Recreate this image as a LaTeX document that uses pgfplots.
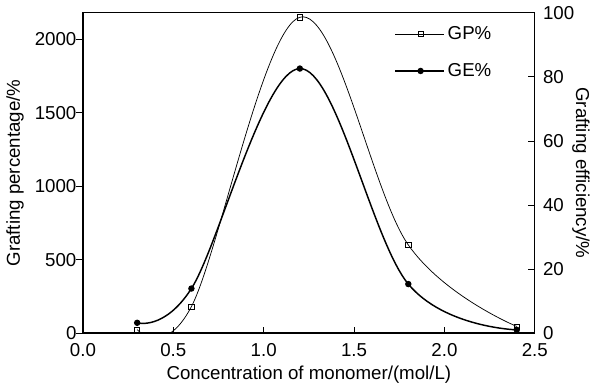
\documentclass[border=0pt]{standalone}
\usepackage{pgfplots}
\pgfplotsset{compat=1.18}
\usepackage{fontspec}
\setmainfont{Liberation Sans}
\begin{document}
\fontsize{11.5}{13}\selectfont
\begin{tikzpicture}
\begin{axis}[
  width=278pt, height=197pt, scale only axis,
  xmin=0, xmax=2.5, ymin=0, ymax=2180,
  xtick={0,0.5,...,2.5}, ytick={0,500,1000,1500,2000},
  xticklabel style={yshift=-2.5pt, /pgf/number format/.cd,fixed,fixed zerofill,precision=1},
  /pgf/number format/1000 sep={},
  xtick pos=left, ytick pos=left,
  tick align=inside,
  major tick length=4pt,
  y tick style={xshift=-4pt},
  tick style={black, line width=0.5pt},
  /pgf/number format/assume math mode=true,
  xlabel={Concentration of monomer/(mol/L)},
  ylabel={Grafting percentage/\%},
  xlabel style={yshift=2pt},
  ylabel style={yshift=-1pt},
  axis line style={line width=0.8pt},
  clip=true,
]
\addplot[black, line width=0.45pt, smooth, tension=0.6, mark=square, mark size=1.6pt, mark options={solid, fill=white, line width=0.4pt}]
  coordinates {(0.3,23) (0.6,180) (1.2,2150) (1.8,600) (2.4,45)};
\end{axis}
\begin{axis}[
  width=278pt, height=197pt, scale only axis,
  xmin=0, xmax=2.5, ymin=0, ymax=100,
  axis y line*=right, axis x line=none,
  ytick={0,20,40,60,80,100},
  tick align=inside,
  major tick length=4pt,
  tick style={black, line width=0.5pt},
  /pgf/number format/assume math mode=true,
  yticklabel style={xshift=1pt},
  ylabel={Grafting efficiency/\%},
  ylabel style={rotate=180, yshift=-9pt},
  axis line style={line width=0.8pt},
  legend style={draw=none, fill=none, at={(0.685,0.975)}, anchor=north west, row sep=9pt, inner sep=1pt, font=\fontsize{11.5}{13}\selectfont},
  legend cell align=left,
  legend image code/.code={
    \draw[#1] (0cm,0cm) -- (1.05cm,0cm);
    \draw[#1, only marks] plot coordinates {(0.55cm,0cm)};
  },
]
\addlegendimage{black, line width=0.45pt, mark=square, mark size=1.6pt, mark options={solid, fill=white, line width=0.4pt}}
\addlegendentry{GP\%}
\addplot[black, line width=0.9pt, smooth, tension=0.6, mark=*, mark size=1.5pt]
  coordinates {(0.3,3.2) (0.6,13.9) (1.2,82.6) (1.8,15.3) (2.4,1.0)};
\addlegendentry{GE\%}
\end{axis}
\end{tikzpicture}
\end{document}
